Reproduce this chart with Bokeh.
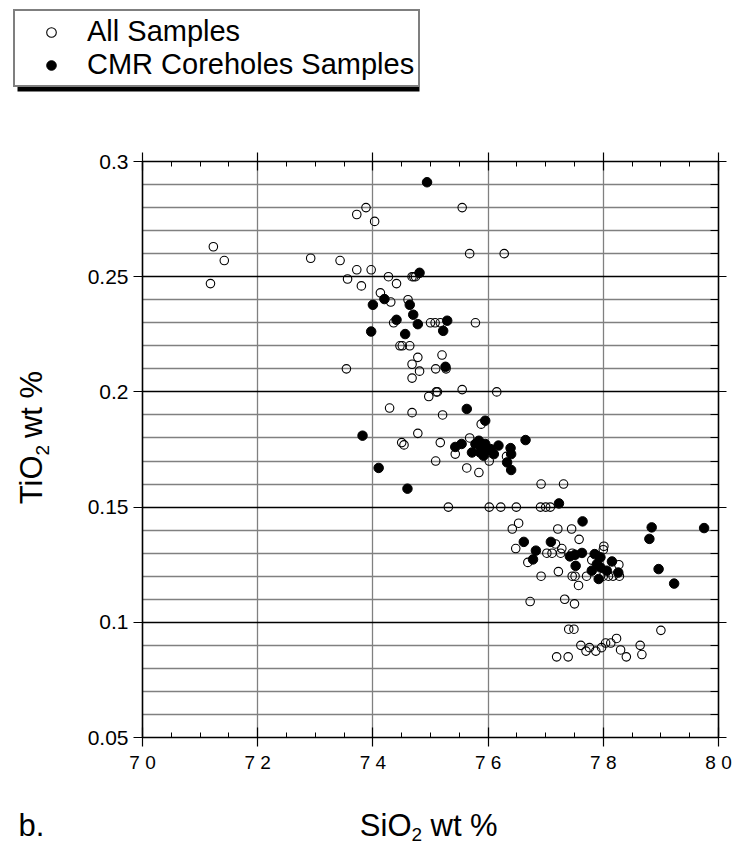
from bokeh.plotting import figure
from bokeh.layouts import column, row
from bokeh.models import (Range1d, LinearAxis, FixedTicker, Grid, Legend,
                          LegendItem, BoxAnnotation, ColumnDataSource)
from bokeh.core.properties import value
from bokeh.embed import file_html
from bokeh.resources import INLINE

# ---------------- data ----------------
all_sio2 = [71.23, 71.42, 71.18, 72.92, 73.43, 73.72, 73.88, 74.03, 73.72, 73.97,
            73.56, 73.80, 74.27, 74.41, 74.13, 74.31, 74.36, 74.47, 74.51, 74.64,
            73.54, 74.68, 74.68, 74.29, 74.68, 74.68, 74.71, 74.74, 74.61, 75.55,
            75.68, 76.28, 75.00, 75.08, 75.17, 75.78, 74.78, 75.20, 74.81, 75.09,
            75.27, 74.97, 75.10, 75.12, 75.55, 76.15, 75.21, 75.88, 74.78, 74.50,
            74.54, 75.17, 75.68, 75.43, 76.02, 76.32, 75.09, 75.63, 75.84, 76.92,
            77.31, 75.31, 76.02, 76.22, 76.49, 76.91, 77.00, 77.08, 76.53, 76.42,
            77.21, 77.45, 77.58, 76.48, 76.69, 77.02, 77.11, 77.26, 77.28, 77.17,
            77.46, 76.92, 77.22, 77.46, 77.51, 77.57, 77.71, 77.80, 78.01, 78.00,
            78.27, 78.00, 78.09, 78.17, 78.28, 76.73, 77.33, 77.50, 77.40, 77.49,
            79.00, 77.19, 77.39, 77.61, 77.70, 77.76, 77.87, 77.97, 78.04, 78.13,
            78.23, 78.30, 78.40, 78.64, 78.67]
all_tio2 = [0.263, 0.257, 0.247, 0.258, 0.257, 0.277, 0.280, 0.274, 0.253, 0.253,
            0.249, 0.246, 0.250, 0.247, 0.243, 0.239, 0.230, 0.220, 0.220, 0.220,
            0.210, 0.212, 0.206, 0.193, 0.191, 0.250, 0.250, 0.250, 0.240, 0.280,
            0.260, 0.260, 0.230, 0.230, 0.230, 0.230, 0.215, 0.216, 0.209, 0.210,
            0.210, 0.198, 0.200, 0.200, 0.201, 0.200, 0.190, 0.186, 0.182, 0.178,
            0.177, 0.178, 0.180, 0.173, 0.170, 0.172, 0.170, 0.167, 0.165, 0.160,
            0.160, 0.150, 0.150, 0.150, 0.150, 0.150, 0.150, 0.150, 0.143, 0.1405,
            0.1405, 0.1405, 0.136, 0.132, 0.126, 0.130, 0.130, 0.130, 0.132, 0.134,
            0.130, 0.120, 0.122, 0.120, 0.120, 0.116, 0.120, 0.127, 0.133, 0.1315,
            0.125, 0.120, 0.120, 0.120, 0.120, 0.109, 0.110, 0.108, 0.097, 0.097,
            0.0965, 0.085, 0.085, 0.090, 0.0875, 0.089, 0.0875, 0.089, 0.091, 0.091,
            0.093, 0.088, 0.085, 0.090, 0.086]

cmr_sio2 = [74.94, 74.81, 74.20, 74.00, 74.64, 74.70, 74.41, 74.78, 73.97, 74.56,
            75.29, 75.22, 75.26, 75.63, 75.95, 73.82, 74.10, 74.60, 75.43, 75.54,
            75.72, 75.78, 75.84, 75.89, 75.86, 75.95, 75.98, 75.92, 76.04, 76.10,
            76.18, 76.39, 76.40, 76.33, 76.40, 76.65, 77.23, 77.64, 76.62, 77.09,
            76.83, 76.78, 77.42, 77.51, 77.63, 77.52, 77.85, 77.95, 77.89, 77.95,
            77.80, 77.92, 78.06, 78.15, 78.26, 78.84, 78.80, 78.96, 79.23, 79.75]
cmr_tio2 = [0.291, 0.2517, 0.2403, 0.2378, 0.2378, 0.2335, 0.2313, 0.2294, 0.2262, 0.2251,
            0.2309, 0.2265, 0.2109, 0.1926, 0.1875, 0.181, 0.167, 0.158, 0.1761, 0.1774,
            0.1737, 0.1774, 0.1788, 0.1759, 0.1737, 0.1774, 0.1745, 0.1723, 0.1752, 0.1730,
            0.1767, 0.1756, 0.1730, 0.1694, 0.1661, 0.1791, 0.1516, 0.1438, 0.1349, 0.1349,
            0.1311, 0.1273, 0.1286, 0.1293, 0.1301, 0.1245, 0.1296, 0.1282, 0.1253, 0.1238,
            0.1224, 0.1188, 0.1224, 0.1264, 0.1216, 0.1412, 0.1362, 0.1231, 0.1168, 0.1409]

x_ticks = [70, 72, 74, 76, 78, 80]
x_tick_labels = ["7 0", "7 2", "7 4", "7 6", "7 8", "8 0"]
x_minor = [70.5, 71, 71.5, 72, 72.5, 73, 73.5, 74, 74.5, 75, 75.5, 76, 76.5,
           77, 77.5, 78, 78.5, 79, 79.5]
y_ticks = [0.05, 0.1, 0.15, 0.2, 0.25, 0.3]
y_tick_labels = ["0.05", "0.1", "0.15", "0.2", "0.25", "0.3"]
y_minor = [0.06, 0.07, 0.08, 0.09, 0.11, 0.12, 0.13, 0.14, 0.16, 0.17, 0.18, 0.19,
           0.21, 0.22, 0.23, 0.24, 0.26, 0.27, 0.28, 0.29]

legend_labels = ["All Samples", "CMR Coreholes Samples"]
x_title = ["SiO", "2", "wt %"]
y_title = ["TiO", "2", "wt %"]
panel_tag = "b."

# ---------------- layout constants (pixels) ----------------
W, H = 743, 846
TOP_H = 150          # legend strip
LEFT_W = 60          # y-title strip
FRAME_L, FRAME_T, FRAME = 142, 161, 576
MAIN_W = W - LEFT_W
MAIN_H = 627
BOT_H = H - TOP_H - MAIN_H
FONT = "Liberation Sans"
TS, SS = "31px", "19px"


def blank(w, h):
    return figure(width=w, height=h, x_range=Range1d(0, w), y_range=Range1d(0, h),
                  x_axis_type=None, y_axis_type=None, toolbar_location=None,
                  output_backend="svg", min_border=0, outline_line_color=None,
                  background_fill_color="white", border_fill_color="white")


# ---------------- main plot ----------------
p = figure(width=MAIN_W, height=MAIN_H, x_range=Range1d(70, 80),
           y_range=Range1d(0.05, 0.3), x_axis_type=None, y_axis_type=None,
           toolbar_location=None, output_backend="svg",
           min_border_left=FRAME_L - LEFT_W,
           min_border_right=MAIN_W - (FRAME_L - LEFT_W) - FRAME,
           min_border_top=FRAME_T - TOP_H,
           min_border_bottom=MAIN_H - (FRAME_T - TOP_H) - FRAME,
           outline_line_color=None, background_fill_color="white",
           border_fill_color="white")

xt = FixedTicker(ticks=x_ticks, minor_ticks=x_minor)
yt = FixedTicker(ticks=y_ticks, minor_ticks=y_minor)

p.add_layout(Grid(dimension=0, ticker=xt, grid_line_color="#808080",
                  grid_line_width=1.3))
p.add_layout(Grid(dimension=1, ticker=yt, grid_line_color="black",
                  grid_line_width=1.3, minor_grid_line_color="#808080",
                  minor_grid_line_width=1.3))


def axis(ticker, labels, ticks, show, tin, tout, mtin, size):
    ov = {t: (l if show else "") for t, l in zip(ticks, labels)}
    return LinearAxis(ticker=ticker, major_label_overrides=ov,
                      axis_line_color="black", axis_line_width=1.6,
                      major_tick_line_color="black", major_tick_line_width=1.2,
                      minor_tick_line_color="black", minor_tick_line_width=1.0,
                      major_tick_in=tin, major_tick_out=tout,
                      minor_tick_in=mtin, minor_tick_out=0,
                      major_label_standoff=5 if show else 0,
                      major_label_text_font=FONT,
                      major_label_text_font_size=size,
                      major_label_text_color="black" if show else None)


p.add_layout(axis(xt, x_tick_labels, x_ticks, True, 10, 9, 5, "19px"), "below")
p.add_layout(axis(xt, x_tick_labels, x_ticks, False, 9, 9, 5, "1px"), "above")
p.add_layout(axis(yt, y_tick_labels, y_ticks, True, 0, 9, 0, "21px"), "left")
p.add_layout(axis(yt, y_tick_labels, y_ticks, False, 8, 8, 8, "1px"), "right")

OPEN = dict(marker="circle", size=8.5, fill_color=None, line_color="black",
            line_width=1.1)
SOLID = dict(marker="circle", size=9.5, fill_color="black", line_color="black",
             line_width=1)

src_all = ColumnDataSource(data=dict(x=all_sio2, y=all_tio2))
src_cmr = ColumnDataSource(data=dict(x=cmr_sio2, y=cmr_tio2))
p.scatter("x", "y", source=src_all, **OPEN)
p.scatter("x", "y", source=src_cmr, **SOLID)

# ---------------- legend strip ----------------
top = blank(W, TOP_H)
ty = lambda py: TOP_H - py
# legend proxies: same sources, hidden in the strip, only drawn as legend symbols
lg_all = top.scatter("x", "y", source=src_all, visible=False, **OPEN)
lg_cmr = top.scatter("x", "y", source=src_cmr, visible=False, **SOLID)
top.add_layout(BoxAnnotation(left=17, right=419, top=ty(14), bottom=ty(91),
                             fill_color="black", fill_alpha=1, line_color=None))
leg = Legend(items=[LegendItem(label=value(legend_labels[0]), renderers=[lg_all]),
                    LegendItem(label=value(legend_labels[1]), renderers=[lg_cmr])],
             location=(13, ty(87)), orientation="vertical", click_policy="none",
             label_text_font=FONT, label_text_font_size="29px",
             label_text_color="black", border_line_color="black",
             border_line_width=2, background_fill_color="white",
             background_fill_alpha=1, padding=4, spacing=-5, margin=0,
             glyph_width=64, glyph_height=24, label_standoff=4)
top.add_layout(leg)

# ---------------- y-title strip ----------------
left = blank(LEFT_W, MAIN_H)
ly = lambda py: TOP_H + MAIN_H - py
ang = 1.5707963267948966
left.text(x=[31], y=[ly(470)], text=[y_title[0]], angle=ang, text_align="right",
          text_baseline="alphabetic", text_font=value(FONT), text_font_size=TS,
          text_color="black")
left.text(x=[42], y=[ly(470)], text=[y_title[1]], angle=ang, text_align="left",
          text_baseline="alphabetic", text_font=value(FONT), text_font_size=SS,
          text_color="black")
left.text(x=[31], y=[ly(451)], text=[y_title[2]], angle=ang, text_align="left",
          text_baseline="alphabetic", text_font=value(FONT), text_font_size=TS,
          text_color="black")

# ---------------- x-title strip ----------------
bot = blank(W, BOT_H)
by = lambda py: H - py
bot.text(x=[411], y=[by(825)], text=[x_title[0]], text_align="right",
         text_baseline="alphabetic", text_font=value(FONT), text_font_size=TS,
         text_color="black")
bot.text(x=[411], y=[by(834)], text=[x_title[1]], text_align="left",
         text_baseline="alphabetic", text_font=value(FONT), text_font_size=SS,
         text_color="black")
bot.text(x=[430], y=[by(825)], text=[x_title[2]], text_align="left",
         text_baseline="alphabetic", text_font=value(FONT), text_font_size=TS,
         text_color="black")
bot.text(x=[18], y=[by(825)], text=[panel_tag], text_align="left",
         text_baseline="alphabetic", text_font=value(FONT), text_font_size=TS,
         text_color="black")

layout = column(top, row(left, p, spacing=0), bot, spacing=0)
open("out.html", "w").write(file_html(layout, INLINE, "SiO2 vs TiO2"))
